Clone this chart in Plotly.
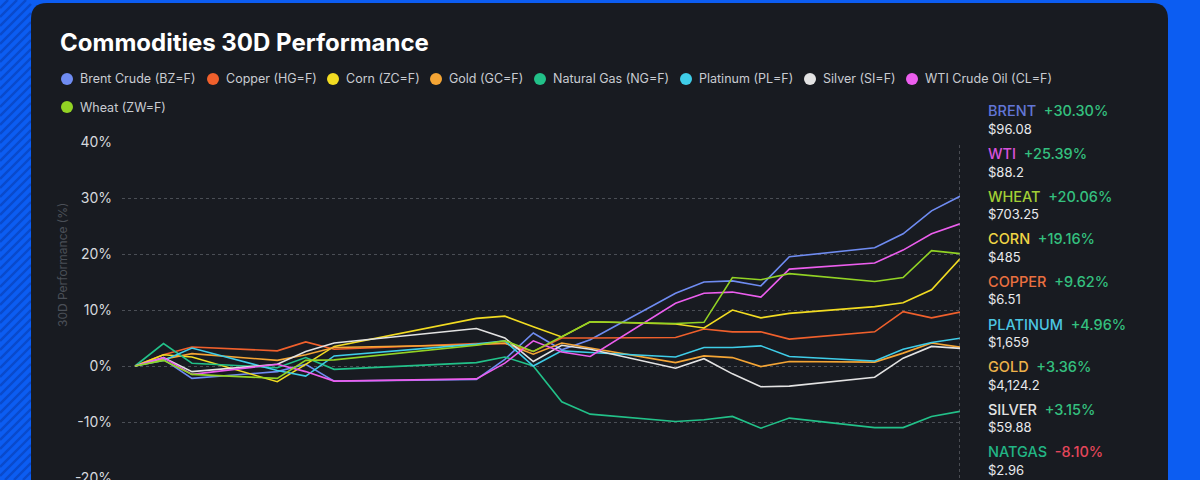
import plotly.graph_objects as go

# ---------------- data ----------------
dates = ["2025-11-19", "2025-11-20", "2025-11-21", "2025-11-24", "2025-11-25", "2025-11-26",
         "2025-12-01", "2025-12-02", "2025-12-03", "2025-12-04", "2025-12-05",
         "2025-12-08", "2025-12-09", "2025-12-10", "2025-12-11", "2025-12-12",
         "2025-12-15", "2025-12-16", "2025-12-17", "2025-12-18"]

series_names = ["Brent Crude (BZ=F)", "Copper (HG=F)", "Corn (ZC=F)", "Gold (GC=F)",
                "Natural Gas (NG=F)", "Platinum (PL=F)", "Silver (SI=F)",
                "WTI Crude Oil (CL=F)", "Wheat (ZW=F)"]
short_names = ["BRENT", "COPPER", "CORN", "GOLD", "NATGAS", "PLATINUM", "SILVER", "WTI", "WHEAT"]
last_prices = ["$96.08", "$6.51", "$485", "$4,124.2", "$2.96", "$1,659", "$59.88", "$88.2", "$703.25"]

brent    = [0, 1.2, -2.2, -1.0, 0.3, -2.7, -2.4, 1.2, 5.9, 2.9, 4.7, 13.0, 15.0, 15.2, 14.3, 19.5, 21.1, 23.6, 27.7, 30.30]
copper   = [0, 2.0, 3.4, 2.7, 4.3, 3.0, 4.0, 4.0, 2.6, 5.0, 5.0, 5.1, 6.6, 6.1, 6.1, 4.8, 6.1, 9.7, 8.6, 9.62]
corn     = [0, 2.0, 1.6, -2.8, 0.3, 3.5, 8.5, 8.9, 7.0, 5.2, 7.9, 7.5, 6.8, 10.0, 8.6, 9.4, 10.6, 11.3, 13.6, 19.16]
gold     = [0, 1.2, 2.2, 1.0, 2.0, 3.3, 3.8, 4.1, 2.1, 4.1, 3.2, 0.6, 1.8, 1.5, -0.1, 0.8, 0.7, 2.3, 4.1, 3.36]
natgas   = [0, 4.0, 0.5, -0.3, 1.5, -0.6, 0.6, 1.6, 0.0, -6.4, -8.6, -9.9, -9.6, -9.0, -11.1, -9.3, -11.0, -11.0, -9.0, -8.10]
platinum = [0, 1.0, 3.2, -0.8, -1.8, 1.8, 3.9, 4.5, 0.0, 2.7, 2.4, 1.6, 3.3, 3.3, 3.6, 1.7, 0.9, 3.0, 4.2, 4.96]
silver   = [0, 1.5, -1.0, 0.3, 2.6, 4.1, 6.7, 5.0, 0.8, 3.7, 3.0, -0.4, 1.3, -1.4, -3.7, -3.6, -2.0, 1.4, 3.5, 3.15]
wti      = [0, 1.5, -1.5, 0.3, -1.0, -2.7, -2.3, 0.5, 4.5, 2.5, 1.7, 11.2, 13.0, 13.2, 12.3, 17.3, 18.4, 20.7, 23.6, 25.39]
wheat    = [0, 1.0, -1.5, -2.2, 1.0, 1.1, 3.7, 4.5, 2.6, 5.3, 7.9, 7.6, 7.8, 15.8, 15.4, 16.5, 15.1, 15.8, 20.6, 20.06]

series_values = [brent, copper, corn, gold, natgas, platinum, silver, wti, wheat]

y_ticks = [-20, -10, 0, 10, 20, 30, 40]
y_ticktext = ["-20%", "-10%", "0%", "10%", "20%", "30%", "40%"]

# ---------------- style ----------------
colors = ["#6f8cf2", "#f0602c", "#f2dc22", "#f4a535", "#22c189", "#3fcde8", "#e3e3e3", "#ec5eee", "#92d324"]
label_colors = ["#6276d6", "#ea7040", "#f0d545", "#eeb24a", "#22b585", "#4cc6e2", "#e2e2e2", "#d852dc", "#a2cf35"]
POS = "#34c07f"
NEG = "#e4465a"
FONT = "Inter"

W, H = 1200, 480


def fx(x):
    return x / W


def fy(y):
    return 1 - y / H


fig = go.Figure()

for name, vals, col in zip(series_names, series_values, colors):
    fig.add_trace(go.Scatter(
        x=dates, y=vals, mode="lines", name=name,
        line=dict(color=col, width=1.6),
        showlegend=False,
        hovertemplate="%{y:.2f}%<extra>" + name + "</extra>",
    ))

shapes = []

# striped blue background on the left
for c in range(-10, 31 + 490, 9):
    xa = max(0, c - 480)
    xb = min(31, c)
    if xb <= xa:
        continue
    shapes.append(dict(type="line", xref="paper", yref="paper",
                       x0=fx(xa), y0=fy(c - xa), x1=fx(xb), y1=fy(c - xb),
                       line=dict(color="#0a4acb", width=2.4), layer="below"))

# dark card
x0, x1, y0, y1, r = 31, 1168, 3, 500, 16
path = (f"M {fx(x0):.5f},{fy(y0 + r):.5f} Q {fx(x0):.5f},{fy(y0):.5f} {fx(x0 + r):.5f},{fy(y0):.5f} "
        f"L {fx(x1 - r):.5f},{fy(y0):.5f} Q {fx(x1):.5f},{fy(y0):.5f} {fx(x1):.5f},{fy(y0 + r):.5f} "
        f"L {fx(x1):.5f},{fy(y1):.5f} L {fx(x0):.5f},{fy(y1):.5f} Z")
shapes.append(dict(type="path", xref="paper", yref="paper", path=path,
                   fillcolor="#181b21", line=dict(width=0), layer="below"))

# crosshair at last date
shapes.append(dict(type="line", xref="x", yref="y", x0=dates[-1], x1=dates[-1],
                   y0=y_ticks[0], y1=y_ticks[-1],
                   line=dict(color="#7a7e85", width=1, dash="dot"), layer="above"))

annotations = []

# title
annotations.append(dict(text="Commodities 30D Performance", xref="paper", yref="paper",
                        x=fx(58), y=fy(42), xanchor="left", yanchor="middle", showarrow=False,
                        font=dict(family=FONT, size=24, color="#ffffff", weight=700)))

# legend (custom, dots + labels)
legend_pos = [(67, 79), (213, 79), (333, 79), (436, 79), (540, 79),
              (686, 79), (810, 79), (912, 79), (67, 107)]
for (cx, cy), name, col in zip(legend_pos, series_names, colors):
    rr = 6
    shapes.append(dict(type="circle", xref="paper", yref="paper",
                       x0=fx(cx - rr), x1=fx(cx + rr), y0=fy(cy + rr), y1=fy(cy - rr),
                       fillcolor=col, line=dict(width=0), layer="above"))
    annotations.append(dict(text=name, xref="paper", yref="paper", x=fx(cx + 11), y=fy(cy),
                            xanchor="left", yanchor="middle", showarrow=False,
                            font=dict(family=FONT, size=12.5, color="#c9ccd2")))

# y-axis title
annotations.append(dict(text="30D Performance (%)", xref="paper", yref="paper",
                        x=fx(62), y=fy(265), textangle=-90, showarrow=False,
                        xanchor="center", yanchor="middle",
                        font=dict(family=FONT, size=12, color="#4a4f57")))

# right-hand summary sorted by performance
order = sorted(range(len(series_values)), key=lambda i: series_values[i][-1], reverse=True)
for k, i in enumerate(order):
    v = series_values[i][-1]
    ytop = 111 + 42.6 * k
    pc = POS if v >= 0 else NEG
    txt = (f"<span style='color:{label_colors[i]}'>{short_names[i]}</span>&nbsp;&nbsp;"
           f"<span style='color:{pc}'>{v:+.2f}%</span>")
    annotations.append(dict(text=txt, xref="paper", yref="paper", x=fx(986), y=fy(ytop),
                            xanchor="left", yanchor="middle", showarrow=False,
                            font=dict(family=FONT, size=14.5, weight=500)))
    annotations.append(dict(text=last_prices[i], xref="paper", yref="paper", x=fx(986), y=fy(ytop + 18),
                            xanchor="left", yanchor="middle", showarrow=False,
                            font=dict(family=FONT, size=13, color="#e8eaed")))

fig.update_layout(
    template="none",
    width=W, height=H,
    margin=dict(l=0, r=0, t=0, b=0, pad=0, autoexpand=False),
    paper_bgcolor="#0c5df2",
    plot_bgcolor="rgba(0,0,0,0)",
    showlegend=False,
    shapes=shapes,
    annotations=annotations,
    font=dict(family=FONT),
    xaxis=dict(domain=[fx(122), fx(960)], type="date", automargin=False,
               range=["2025-11-18 13:00", dates[-1]],
               showgrid=False, zeroline=False, showline=False, showticklabels=False, ticks=""),
    yaxis=dict(domain=[fy(478), fy(142)], range=[y_ticks[0], y_ticks[-1]], automargin=False,
               tickmode="array", tickvals=y_ticks, ticktext=y_ticktext,
               showgrid=True, gridcolor="#4a4e55", gridwidth=1, griddash="dot",
               zeroline=False, showline=False, ticks="",
               ticklabelstandoff=9, ticklabeloverflow="allow",
               tickfont=dict(family=FONT, size=14, color="#d6d9de")),
)

fig.write_html("out.html")
